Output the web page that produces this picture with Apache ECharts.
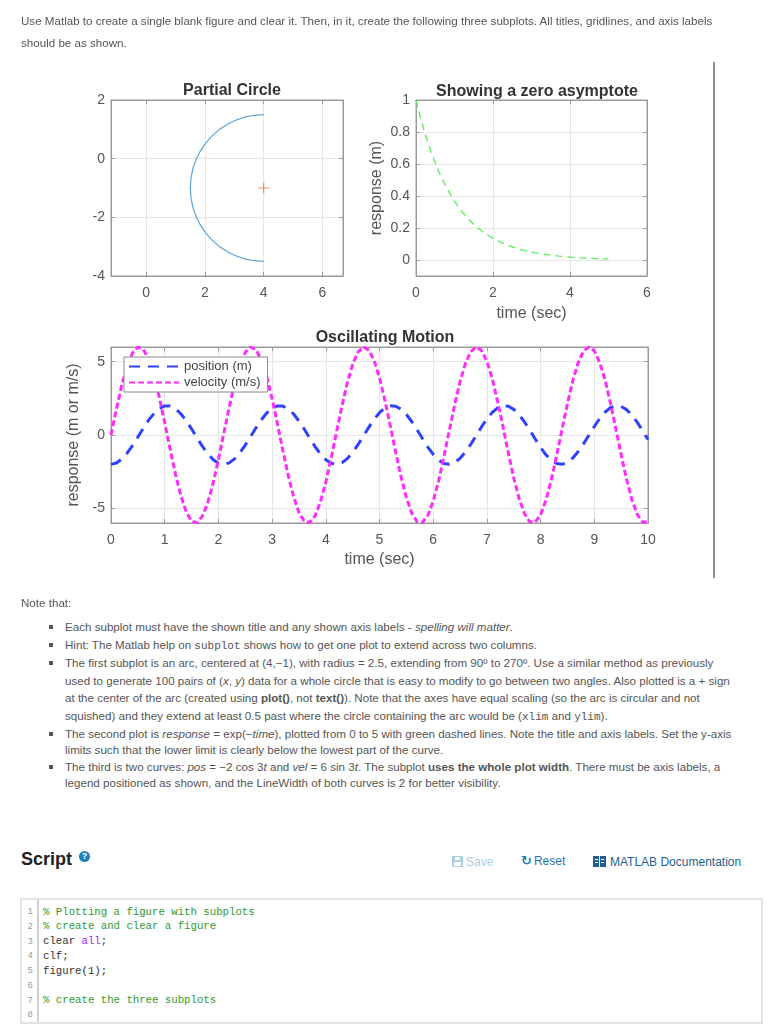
<!DOCTYPE html>
<html>
<head>
<meta charset="utf-8">
<script src="https://cdn.jsdelivr.net/npm/echarts@6/dist/echarts.min.js"></script>
<style>
  html, body { margin:0; padding:0; background:#fff; }
  body { width:773px; height:1026px; position:relative; overflow:hidden; font-family:"Liberation Sans", Arial, sans-serif; }
  #chart { position:absolute; left:0; top:0; width:773px; height:600px; }
  .t { position:absolute; white-space:nowrap; font-size:11.6px; line-height:13px; color:#555; }
  .t code { font-family:"Liberation Mono", "DejaVu Sans Mono", monospace; font-size:11px; }
  .bul { position:absolute; width:4px; height:4px; background:#555; }
  #vline { position:absolute; left:713px; top:62px; width:2px; height:516px; background:#8e8e8e; }
  .btn { position:absolute; top:855px; font-size:12px; line-height:14px; white-space:nowrap; }
  .ln { position:absolute; width:12px; text-align:right; left:21px; font-family:"Liberation Mono", monospace; font-size:9px; color:#999; line-height:12px; }
  .cl { position:absolute; left:43px; font-family:"Liberation Mono", "DejaVu Sans Mono", monospace; font-size:10.7px; line-height:13px; color:#333; white-space:pre; }
  .cm { color:#2f9a2f; }
  .kw { color:#a020f0; }
</style>
</head>
<body>
<div id="chart"></div>
<div id="vline"></div>
<div id="page"></div>
<script>
// ---------------- DATA ----------------
// Subplot 1: partial circle (center (4,-1), r = 2.5, 90deg..270deg)
const arcX = [4.000, 3.674, 3.353, 3.043, 2.750, 2.478, 2.232, 2.017, 1.835, 1.690, 1.585, 1.522, 1.500,
              1.522, 1.585, 1.690, 1.835, 2.017, 2.232, 2.478, 2.750, 3.043, 3.353, 3.674, 4.000];
const arcY = [1.500, 1.479, 1.415, 1.310, 1.165, 0.983, 0.768, 0.522, 0.250, -0.043, -0.353, -0.674, -1.000,
              -1.326, -1.647, -1.957, -2.250, -2.522, -2.768, -2.983, -3.165, -3.310, -3.415, -3.479, -3.500];
const centerX = [4];
const centerY = [-1];
const xTicks1 = [0, 2, 4, 6];
const yTicks1 = [-4, -2, 0, 2];

// Subplot 2: response = exp(-time)
const expTime = [0,0.1,0.2,0.3,0.4,0.5,0.6,0.7,0.8,0.9,1.0,1.1,1.2,1.3,1.4,1.5,1.6,1.7,1.8,1.9,2.0,
                 2.1,2.2,2.3,2.4,2.5,2.6,2.7,2.8,2.9,3.0,3.1,3.2,3.3,3.4,3.5,3.6,3.7,3.8,3.9,4.0,
                 4.1,4.2,4.3,4.4,4.5,4.6,4.7,4.8,4.9,5.0];
const expResponse = [1.0000,0.9048,0.8187,0.7408,0.6703,0.6065,0.5488,0.4966,0.4493,0.4066,0.3679,
                     0.3329,0.3012,0.2725,0.2466,0.2231,0.2019,0.1827,0.1653,0.1496,0.1353,
                     0.1225,0.1108,0.1003,0.0907,0.0821,0.0743,0.0672,0.0608,0.0550,0.0498,
                     0.0450,0.0408,0.0369,0.0334,0.0302,0.0273,0.0247,0.0224,0.0202,0.0183,
                     0.0166,0.0150,0.0136,0.0123,0.0111,0.0101,0.0091,0.0082,0.0074,0.0067];
const xTicks2 = [0, 2, 4, 6];
const yTicks2 = [0, 0.2, 0.4, 0.6, 0.8, 1];

// Subplot 3: oscillating motion
const oscTime = [0,0.1,0.2,0.3,0.4,0.5,0.6,0.7,0.8,0.9,1.0,1.1,1.2,1.3,1.4,1.5,1.6,1.7,1.8,1.9,
                 2.0,2.1,2.2,2.3,2.4,2.5,2.6,2.7,2.8,2.9,3.0,3.1,3.2,3.3,3.4,3.5,3.6,3.7,3.8,3.9,
                 4.0,4.1,4.2,4.3,4.4,4.5,4.6,4.7,4.8,4.9,5.0,5.1,5.2,5.3,5.4,5.5,5.6,5.7,5.8,5.9,
                 6.0,6.1,6.2,6.3,6.4,6.5,6.6,6.7,6.8,6.9,7.0,7.1,7.2,7.3,7.4,7.5,7.6,7.7,7.8,7.9,
                 8.0,8.1,8.2,8.3,8.4,8.5,8.6,8.7,8.8,8.9,9.0,9.1,9.2,9.3,9.4,9.5,9.6,9.7,9.8,9.9,10.0];
const position = [-2.00,-1.91,-1.65,-1.24,-0.72,-0.14,0.45,1.01,1.47,1.81,
                  1.98,1.98,1.79,1.45,0.98,0.42,-0.18,-0.76,-1.27,-1.67,
                  -1.92,-2.00,-1.90,-1.63,-1.22,-0.69,-0.11,0.49,1.04,1.50,
                  1.82,1.98,1.97,1.78,1.43,0.95,0.39,-0.21,-0.79,-1.30,
                  -1.69,-1.93,-2.00,-1.89,-1.61,-1.19,-0.66,-0.07,0.52,1.07,
                  1.52,1.84,1.99,1.96,1.76,1.40,0.92,0.35,-0.24,-0.82,
                  -1.32,-1.71,-1.94,-2.00,-1.88,-1.59,-1.16,-0.63,-0.04,0.55,
                  1.10,1.54,1.85,1.99,1.96,1.75,1.38,0.89,0.32,-0.27,
                  -0.85,-1.35,-1.72,-1.95,-2.00,-1.87,-1.57,-1.13,-0.60,-0.01,
                  0.58,1.12,1.56,1.86,1.99,1.95,1.73,1.36,0.86,0.29,-0.31];
const velocity = [0.00,1.77,3.39,4.70,5.59,5.99,5.84,5.18,4.05,2.56,
                  0.85,-0.95,-2.66,-4.13,-5.23,-5.87,-5.98,-5.55,-4.64,-3.30,
                  -1.68,0.10,1.87,3.47,4.76,5.63,5.99,5.82,5.13,3.98,
                  2.47,0.75,-1.05,-2.75,-4.20,-5.28,-5.89,-5.97,-5.52,-4.57,
                  -3.22,-1.58,0.20,1.97,3.55,4.82,5.66,6.00,5.79,5.07,
                  3.90,2.38,0.65,-1.15,-2.83,-4.27,-5.33,-5.91,-5.96,-5.48,
                  -4.51,-3.14,-1.48,0.30,2.06,3.63,4.88,5.69,6.00,5.77,
                  5.02,3.83,2.29,0.55,-1.24,-2.92,-4.34,-5.37,-5.92,-5.94,
                  -5.43,-4.44,-3.05,-1.38,0.40,2.15,3.71,4.94,5.73,6.00,
                  5.74,4.96,3.75,2.19,0.45,-1.34,-3.01,-4.41,-5.42,-5.94,-5.93];
const xTicks3 = [0, 1, 2, 3, 4, 5, 6, 7, 8, 9, 10];
const yTicks3 = [-5, 0, 5];
const seriesNames = ['position (m)', 'velocity (m/s)'];
const titles = ['Partial Circle', 'Showing a zero asymptote', 'Oscillating Motion'];

// ---------------- CHART ----------------
const FONT = '"Liberation Sans", Arial, sans-serif';
const AX = '#9a9a9a', LBL = '#555', GRID = '#e6e6e6';
const zip = (a, b) => a.map((v, i) => [v, b[i]]);

function mainAxis(gi, min, max, ticks, margin, extra) {
  return Object.assign({
    type: 'value', gridIndex: gi, min: min, max: max,
    axisLine: { show: true, onZero: false, lineStyle: { color: AX, width: 1 } },
    axisTick: { show: true, inside: true, length: 4, lineStyle: { color: AX }, customValues: ticks },
    axisLabel: { color: LBL, fontSize: 14, fontFamily: FONT, margin: margin, customValues: ticks },
    splitLine: { show: true, lineStyle: { color: GRID, width: 1 } },
    nameTextStyle: { color: LBL, fontSize: 16, fontFamily: FONT }
  }, extra || {});
}
function mirrorAxis(gi, min, max, ticks, pos) {
  return {
    type: 'value', gridIndex: gi, min: min, max: max, position: pos,
    axisLine: { show: true, onZero: false, lineStyle: { color: AX, width: 1 } },
    axisTick: { show: true, inside: true, length: 4, lineStyle: { color: AX }, customValues: ticks },
    axisLabel: { show: false, customValues: ticks },
    splitLine: { show: false }
  };
}

const chart = echarts.init(document.getElementById('chart'), null, { renderer: 'canvas' });
const gridBase = { show: true, borderColor: AX, borderWidth: 1, backgroundColor: '#fff', containLabel: false };
const titleStyle = { fontSize: 16, fontWeight: 'bold', color: '#333', fontFamily: FONT };
chart.setOption({
  animation: false,
  backgroundColor: 'transparent',
  title: [
    { text: titles[0], left: 227, top: 78, textAlign: 'center', textStyle: titleStyle },
    { text: titles[1], left: 532, top: 79, textAlign: 'center', textStyle: titleStyle },
    { text: titles[2], left: 380, top: 325, textAlign: 'center', textStyle: titleStyle }
  ],
  grid: [
    Object.assign({ left: 111, top: 100, width: 232, height: 176 }, gridBase),
    Object.assign({ left: 416, top: 100, width: 231, height: 176 }, gridBase),
    Object.assign({ left: 111, top: 347, width: 537, height: 176 }, gridBase)
  ],
  xAxis: [
    mainAxis(0, -1.2, 6.7, xTicks1, 10),
    mainAxis(1, 0, 6, xTicks2, 10, { name: 'time (sec)', nameLocation: 'middle', nameGap: 30 }),
    mainAxis(2, 0, 10, xTicks3, 10, { name: 'time (sec)', nameLocation: 'middle', nameGap: 29 }),
    mirrorAxis(0, -1.2, 6.7, xTicks1, 'top'),
    mirrorAxis(1, 0, 6, xTicks2, 'top'),
    mirrorAxis(2, 0, 10, xTicks3, 'top')
  ],
  yAxis: [
    mainAxis(0, -4, 2, yTicks1, 6),
    mainAxis(1, -0.1, 1, yTicks2, 6, { name: 'response (m)', nameLocation: 'middle', nameGap: 31, nameRotate: 90 }),
    mainAxis(2, -6, 6, yTicks3, 6, { name: 'response (m or m/s)', nameLocation: 'middle', nameGap: 25, nameRotate: 90 }),
    mirrorAxis(0, -4, 2, yTicks1, 'right'),
    mirrorAxis(1, -0.1, 1, yTicks2, 'right'),
    mirrorAxis(2, -6, 6, yTicks3, 'right')
  ],
  legend: {
    data: seriesNames, orient: 'vertical', left: 124, top: 357, z: 20,
    itemWidth: 50, itemHeight: 14, itemGap: 3, padding: [3, 7, 3, 4],
    borderColor: '#8a8a8a', borderWidth: 1, backgroundColor: '#fff', borderRadius: 0,
    selectedMode: false,
    textStyle: { fontSize: 13, color: '#444', fontFamily: FONT },
    itemStyle: { color: 'rgba(0,0,0,0)', borderWidth: 0, borderColor: 'rgba(0,0,0,0)' }
  },
  series: [
    { type: 'line', name: 'arc', xAxisIndex: 0, yAxisIndex: 0, data: zip(arcX, arcY), showSymbol: false, symbol: 'none',
      lineStyle: { color: '#5ca4da', width: 1.2 }, z: 2 },
    { type: 'scatter', name: 'center', xAxisIndex: 0, yAxisIndex: 0, data: zip(centerX, centerY),
      symbol: 'path://M5,0L5,10M0,5L10,5', symbolSize: 11,
      itemStyle: { color: 'rgba(0,0,0,0)', borderColor: '#e8743b', borderWidth: 1.2 }, z: 2 },
    { type: 'line', name: 'response', xAxisIndex: 1, yAxisIndex: 1, data: zip(expTime, expResponse), showSymbol: false, symbol: 'none',
      lineStyle: { color: '#55ee55', width: 1.3, type: [7, 5] }, z: 2 },
    { type: 'line', name: seriesNames[0], xAxisIndex: 2, yAxisIndex: 2, data: zip(oscTime, position), showSymbol: false, symbol: 'none',
      lineStyle: { color: '#3040ff', width: 3, type: [11, 8] }, z: 2 },
    { type: 'line', name: seriesNames[1], xAxisIndex: 2, yAxisIndex: 2, data: zip(oscTime, velocity), showSymbol: false, symbol: 'none',
      lineStyle: { color: '#ff2bff', width: 3, type: [6, 3] }, z: 2 }
  ]
});

// ---------------- PAGE TEXT ----------------
const page = document.getElementById('page');
function add(html, cls, x, y, extra) {
  const d = document.createElement('div');
  d.className = cls;
  d.style.position = 'absolute';
  d.style.left = x + 'px';
  d.style.top = y + 'px';
  if (extra) Object.assign(d.style, extra);
  d.innerHTML = html;
  page.appendChild(d);
  return d;
}
const introLines = [
  'Use Matlab to create a single blank figure and clear it. Then, in it, create the following three subplots. All titles, gridlines, and axis labels',
  'should be as shown.'
];
add(introLines[0], 't', 21, 14);
add(introLines[1], 't', 21, 36);
add('Note that:', 't', 21, 596);

const noteLines = [
  [627, true, 'Each subplot must have the shown title and any shown axis labels - <i>spelling will matter</i>.'],
  [645, true, 'Hint: The Matlab help on <code>subplot</code> shows how to get one plot to extend across two columns.'],
  [663, true, 'The first subplot is an arc, centered at (4,&minus;1), with radius = 2.5, extending from 90&ordm; to 270&ordm;. Use a similar method as previously'],
  [681, false, 'used to generate 100 pairs of (<i>x</i>, <i>y</i>) data for a whole circle that is easy to modify to go between two angles. Also plotted is a + sign'],
  [698, false, 'at the center of the arc (created using <b>plot()</b>, not <b>text()</b>). Note that the axes have equal scaling (so the arc is circular and not'],
  [716, false, 'squished) and they extend at least 0.5 past where the circle containing the arc would be (<code>xlim</code> and <code>ylim</code>).'],
  [734, true, 'The second plot is <i>response</i> = exp(&minus;<i>time</i>), plotted from 0 to 5 with green dashed lines. Note the title and axis labels. Set the y-axis'],
  [750, false, 'limits such that the lower limit is clearly below the lowest part of the curve.'],
  [767, true, 'The third is two curves: <i>pos</i> = &minus;2 cos 3<i>t</i> and <i>vel</i> = 6 sin 3<i>t</i>. The subplot <b>uses the whole plot width</b>. There must be axis labels, a'],
  [783, false, 'legend positioned as shown, and the LineWidth of both curves is 2 for better visibility.']
];
noteLines.forEach(([y, bullet, html]) => {
  if (bullet) add('', 'bul', 49, y - 2);
  add(html, 't', 65, y - 7);
});

// Script header
add('Script', '', 21, 849, { fontSize: '18px', fontWeight: 'bold', color: '#222' });
add('?', '', 79, 851, { width: '11px', height: '11px', borderRadius: '50%', background: '#1f7fc0', color: '#fff', fontSize: '9px', fontWeight: 'bold', lineHeight: '11px', textAlign: 'center' });
add('<span style="display:inline-block;position:relative;width:11px;height:11px;background:#a9cde3;vertical-align:-1px;margin-right:3px;border-radius:1px"><span style="position:absolute;left:3px;top:1px;width:5px;height:3px;background:#fff"></span><span style="position:absolute;left:2px;top:6px;width:7px;height:4px;background:#fff"></span></span>Save', 'btn', 452, 855, { color: '#a9cde3' });
add('<span style="font-family:\'DejaVu Sans\';font-weight:bold;font-size:13px;margin-right:2px">&#8635;</span>Reset', 'btn', 521, 854, { color: '#2277b5' });
add('<span style="display:inline-block;position:relative;width:13px;height:11px;background:#1f5f93;vertical-align:-1px;margin-right:4px"><span style="position:absolute;left:6px;top:0;width:1px;height:11px;background:#fff"></span><span style="position:absolute;left:2px;top:3px;width:3px;height:1px;background:#fff"></span><span style="position:absolute;left:8px;top:3px;width:3px;height:1px;background:#fff"></span><span style="position:absolute;left:2px;top:6px;width:3px;height:1px;background:#fff"></span><span style="position:absolute;left:8px;top:6px;width:3px;height:1px;background:#fff"></span></span>MATLAB Documentation', 'btn', 593, 855, { color: '#1f5f93' });

// Code box
add('', '', 20, 898, { width: '739px', height: '122px', border: '2px solid #e3e3e3', background: '#fff' });
add('', '', 37, 900, { width: '2px', height: '122px', background: '#cfcfcf' });
const codeLines = [
  '<span class="cm">% Plotting a figure with subplots</span>',
  '<span class="cm">% create and clear a figure</span>',
  'clear <span class="kw">all</span>;',
  'clf;',
  'figure(1);',
  '',
  '<span class="cm">% create the three subplots</span>',
  ''
];
const codeY = [912, 926.5, 941.5, 956, 971, 985.5, 1000.5, 1014.5];
codeLines.forEach((html, i) => {
  add(String(i + 1), 'ln', 21, codeY[i] - 6);
  add(html, 'cl', 43, codeY[i] - 6.5);
});
</script>
</body>
</html>
